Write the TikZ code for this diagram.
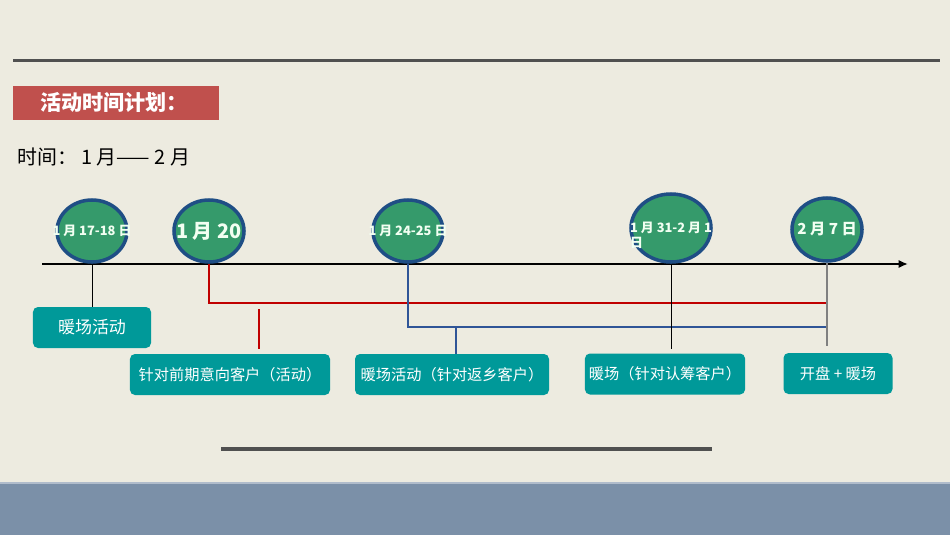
\documentclass[tikz,border=0pt]{standalone}
\usepackage{fontspec}
\setmainfont{Noto Sans CJK SC}
\usetikzlibrary{arrows.meta,positioning,shapes.geometric}
\definecolor{paper}{HTML}{EDEBE0}
\definecolor{band}{HTML}{7B90A8}
\definecolor{titlered}{HTML}{C0504D}
\definecolor{dotgreen}{HTML}{359A6B}
\definecolor{dotrim}{HTML}{1F4E85}
\definecolor{boxteal}{HTML}{009999}
\definecolor{linered}{HTML}{C00000}
\definecolor{lineblue}{HTML}{2F5597}
\definecolor{rulegray}{HTML}{505050}

\begin{document}
\begin{tikzpicture}[x=0.03cm,y=-0.03cm,
  datedot/.style={ellipse,draw=dotrim,line width=3pt,fill=dotgreen,inner sep=0pt,minimum width=2.1cm,minimum height=1.86cm},
  datetxt/.style={text=green!5!white,font=\bfseries,inner sep=0pt},
  planbox/.style={fill=boxteal,rounded corners=0.15cm,minimum height=1.23cm,text=white,font=\fontsize{13pt}{15pt}\selectfont},
  redline/.style={draw=linered,line width=1.8pt},
  blueline/.style={draw=lineblue,line width=1.8pt}]
  % background and rules
  \fill[paper] (0,0) rectangle (950,535);
  \useasboundingbox (0,0) rectangle (950,535);
  \fill[band] (0,483) rectangle (950,535);
  \draw[band!60!white,line width=1pt] (0,483) -- (950,483);
  \draw[rulegray,line width=2.5pt] (13,60.5) -- (940,60.5);
  \draw[rulegray,line width=4pt] (221,449) -- (712,449);
  % heading
  \node[fill=titlered,minimum width=6.18cm,minimum height=1.02cm,inner sep=0pt] (title) at (116,103) {};
  \node[anchor=west,text=white,font=\bfseries\fontsize{18pt}{20pt}\selectfont,inner sep=0pt] (titletxt) at (40,103) {活动时间计划：};
  \node[anchor=west,font=\fontsize{17pt}{19pt}\selectfont,inner sep=0pt] (period) at (17,157) {时间：\ 1 月—— 2 月};
  % time axis
  \coordinate (axl) at (42,264);
  \coordinate (axr) at (908,264);
  \draw[line width=2.4pt,-{Latex[length=8pt,width=7pt]}] (axl) -- (axr);
  % dates
  \node[datedot] (d1) at (92,231) {};
  \node[datedot] (d2) at (209,231) {};
  \node[datedot] (d3) at (408,231) {};
  \node[datedot,minimum width=2.4cm,minimum height=2.04cm] (d4) at (671,228) {};
  \node[datedot,minimum height=1.89cm] (d5) at (827,229.5) {};
  \node[datetxt,font=\bfseries\fontsize{11pt}{13pt}\selectfont] (t1) at (d1) {1 月 17-18 日};
  \node[datetxt,font=\bfseries\fontsize{17pt}{19pt}\selectfont] (t2) at (d2) {1 月 20};
  \node[datetxt,font=\bfseries\fontsize{11pt}{13pt}\selectfont] (t3) at (d3) {1 月 24-25 日};
  \node[datetxt,font=\bfseries\fontsize{11pt}{13pt}\selectfont,align=left] (t4) at (671,235) {1 月 31-2 月 1\\日};
  \node[datetxt,font=\bfseries\fontsize{13pt}{15pt}\selectfont] (t5) at (d5) {2 月 7 日};
  % activities
  \node[planbox,minimum width=3.54cm,font=\fontsize{14.5pt}{16pt}\selectfont] (b1) at (92,327.5) {暖场活动};
  \node[planbox,minimum width=6cm] (b2) at (230,374.5) {针对前期意向客户（活动）};
  \node[planbox,minimum width=5.82cm] (b3) at (452,374.5) {暖场活动（针对返乡客户）};
  \node[planbox,minimum width=4.38cm] (b4) at (665,374) {暖场（针对认筹客户）};
  \node[planbox,minimum width=3.27cm] (b5) at (838,373.5) {开盘 + 暖场};
  % connectors
  \coordinate (rend) at (828,303);
  \coordinate (rdrop) at (259,309);
  \coordinate (bend) at (827,327);
  \coordinate (bdrop) at (456,327);
  \draw[black,line width=0.6pt] (d1.south) -- (d1.south |- b1.north);
  \draw[redline] (d2.south) |- (rend);
  \draw[redline,shorten >=0.15cm] (rdrop) -- (rdrop |- b2.north);
  \draw[blueline] (d3.south) |- (bend);
  \draw[blueline] (bdrop) -- (bdrop |- b3.north);
  \draw[black,line width=0.6pt,shorten >=0.12cm] (d4.south) -- (d4.south |- b4.north);
  \draw[gray,line width=1pt,shorten >=0.2cm] (d5.south) -- (d5.south |- b5.north);
\end{tikzpicture}
\end{document}
